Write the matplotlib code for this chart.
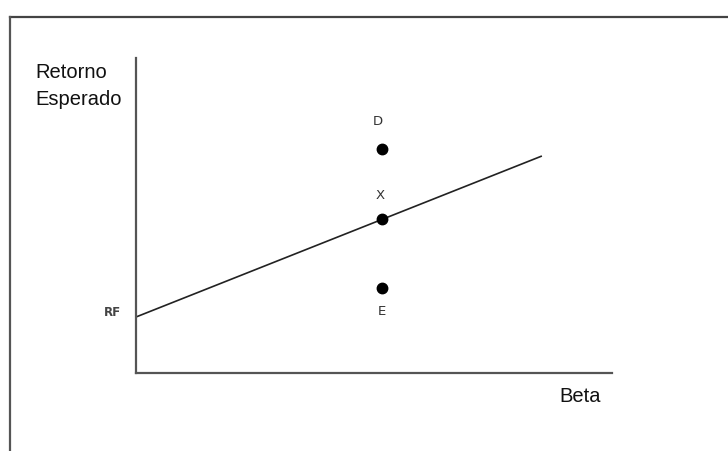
import matplotlib
matplotlib.use("Agg")
import matplotlib.pyplot as plt
from matplotlib.lines import Line2D

# Data (beta, expected return)
sml_beta = [0.0, 1.65]
sml_return = [4.0, 15.5]
point_names = ["D", "X", "E"]
point_beta = [1.0, 1.0, 1.0]
point_return = [16.0, 11.0, 6.1]
rf_label = "RF"
rf_value = 4.0
x_label = "Beta"
y_label = "Retorno\nEsperado"

W, H = 728, 451
fig = plt.figure(figsize=(W / 100, H / 100), dpi=100)
fig.patch.set_facecolor("white")

# Outer frame (top and left edges only, as in the reference)
fig.add_artist(Line2D([9.5 / W, 1.0], [1 - 16.5 / H, 1 - 16.5 / H], color="#444444", lw=1.6))
fig.add_artist(Line2D([9.5 / W, 9.5 / W], [0.0, 1 - 16.5 / H], color="#555555", lw=1.6))

ax = fig.add_axes([136 / W, 78 / H, 476 / W, 315 / H])
ax.set_xlim(0, 1.935)
ax.set_ylim(0, 22.5)
for s in ["top", "right"]:
    ax.spines[s].set_visible(False)
for s in ["left", "bottom"]:
    ax.spines[s].set_color("#555555")
    ax.spines[s].set_linewidth(1.6)
ax.set_xticks([])
ax.set_yticks([])

ax.plot(sml_beta, sml_return, color="#222222", lw=1.2, solid_capstyle="butt")
ax.plot(point_beta, point_return, "o", color="black", markersize=7.5, linestyle="none")

offsets = {"D": (-3, 20), "X": (-1, 17), "E": (0, -17)}
for name, b, r in zip(point_names, point_beta, point_return):
    dx, dy = offsets[name]
    ax.annotate(name, (b, r), xytext=(dx, dy), textcoords="offset points",
                ha="center", va="center", fontsize=9.5, color="#333333",
                family="DejaVu Sans")

ax.annotate(rf_label, (0, rf_value), xytext=(-17, 3), textcoords="offset points",
            ha="center", va="center", fontsize=8.5, color="#444444",
            fontweight="bold", family="DejaVu Sans")

fig.text(35 / W, 1 - 86 / H, y_label, ha="left", va="center", fontsize=14.5,
         family="Liberation Sans", color="#111111", linespacing=1.5)
fig.text(580 / W, 1 - 396 / H, x_label, ha="center", va="center", fontsize=14.5,
         family="Liberation Sans", color="#111111")

fig.savefig("out.png", dpi=100, facecolor="white")
